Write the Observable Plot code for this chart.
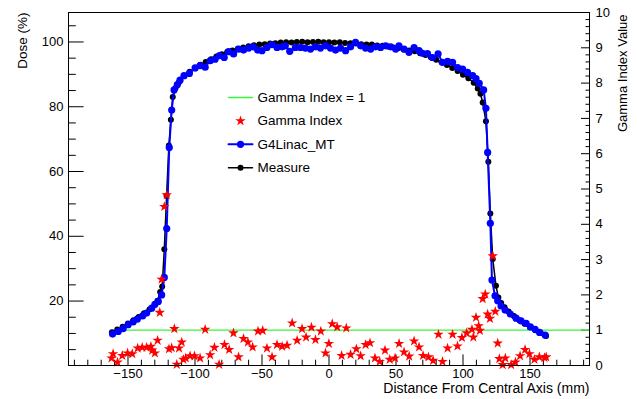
<!DOCTYPE html>
<html><head><meta charset="utf-8">
<script src="https://cdn.jsdelivr.net/npm/d3@7"></script>
<script src="https://cdn.jsdelivr.net/npm/@observablehq/plot@0.6"></script>
<style>body{margin:0;background:#fff;} #chart{width:637px;height:399px;}</style>
</head><body><div id="chart"></div>
<script>
// ---- data ----
const measureX = [-162,-158,-154,-150,-146,-142,-138,-134,-130,-128,-126,-124.5,-122.9,-121.2,-119.5,-118,-116.6,-114.5,-112,-108,-104,-100,-96,-92,-88,-84,-80,-76,-72,-68,-64,-60,-56,-52,-48,-44,-40,-36,-32,-28,-24,-20,-16,-12,-8,-4,0,4,8,12,16,20,24,28,32,36,40,44,48,52,56,60,64,68,72,76,80,84,88,92,96,100,104,108,111,113,114.7,117.1,118.9,120.4,122.2,124.6,126.4,128.5,131,134,138,142,146,150,154,158,162];
const measureDose = [10.4,11.2,12.1,13.1,14.1,15.1,16.2,17.4,18.9,20.1,22.8,24.5,36,52.5,68,76,83,85.8,87.6,89.5,90.8,91.9,93,93.8,94.7,95.5,96.2,96.9,97.4,97.9,98.3,98.7,99,99.2,99.3,99.5,99.6,99.8,99.9,99.8,100,100.1,99.9,100,100.1,99.9,99.9,99.8,99.9,99.7,99.6,99.5,99.3,99.2,99.2,98.9,98.8,98.6,98.3,98.1,97.7,97.4,97.1,96.5,96,95.3,94.5,93.7,92.9,92,91,89.9,88.8,87.4,85.6,84,81.3,75.5,63,47,33,24.7,21.1,19.4,18.1,16.8,15.4,14.1,13,11.9,11,10.1,9.2];

const simX = [-161.5,-157.3,-153.6,-149.9,-146.1,-143.1,-139.1,-136.1,-132.3,-129.9,-127.4,-124.9,-122.9,-121.1,-119.2,-117.4,-115.6,-113.2,-111.2,-108.2,-104.2,-99.9,-96.2,-92.4,-88.7,-85,-81.7,-78.2,-75,-71.2,-67.5,-63.8,-60,-56.7,-53.3,-50,-46.3,-42.5,-38.8,-35,-32.6,-29.3,-25.1,-21.3,-17.6,-13.8,-10.1,-6.4,-2.6,1.1,4.9,8.6,12.4,16.1,19.8,23.6,27.3,31.1,34.8,38.5,42.3,46,49.8,52.2,56,59.7,63.5,67.2,69.8,73.5,77.2,81.4,84.7,88.5,92.2,96,99.7,103.4,107.2,109.7,112.1,115.4,117.1,118.4,120.4,121.6,123.9,125.9,128.4,131.4,135.3,139.6,143.3,147.1,150.3,153.8,157.1,161.3];
const simDose = [9.8,10.6,11.5,12.7,13.6,14.4,15.4,16.3,17.8,19,19.9,21.9,27.3,42.4,67.4,79,85.2,86.8,88.2,89.6,90.3,92,92.7,92.2,94.2,94.7,95.8,95.2,97,96.3,97.8,97.5,98.1,98.5,97.5,97.3,98.3,99.2,98.3,98.5,98.8,97.1,98.3,98.3,98.1,97.8,98.5,98.1,98.8,98.1,97.5,98.1,97.3,98.5,99.9,98.8,98.1,97.8,98.5,98.3,98.8,98.5,97.8,98.8,97.8,96.8,98.3,97.3,96.5,96.4,95.2,96.3,93.7,94,93.7,92.1,91.6,90.6,89.6,88.7,87.2,85.2,79.5,65.9,44,26.5,21.6,20.1,18.5,17.2,16,14.7,13.9,13.1,12,11.3,10.3,9.5];

const gammaX = [-162.3,-161.1,-157.8,-154.3,-150.3,-146.8,-142.8,-139.4,-136.1,-132.9,-131.9,-129.9,-127.9,-126.3,-124.9,-122.9,-121.1,-119.4,-117.4,-115.4,-113.6,-111.9,-109.9,-108.7,-106.9,-103.7,-100.4,-96.2,-92.4,-88.7,-85.5,-82,-78,-74.5,-71.3,-67.5,-63.8,-60.5,-57,-53,-49.5,-46.3,-42.5,-38.8,-35,-31.3,-27.5,-23.8,-20.1,-17.1,-13.1,-10.1,-6.1,-2.6,-0.1,2.4,6.1,9.4,12.9,16.1,20.4,23.6,27.3,30.6,34.3,37.8,41.8,45.3,49.3,52.3,56,59.8,63.5,67.2,70.2,74.2,77.7,81.7,84.7,88.5,92.2,95.9,99.2,102.7,106.7,107.7,109.7,111.7,112.6,114.7,116.6,118.4,120.1,122.2,124.1,125.9,127.1,129.6,131.6,135.9,139.1,142.6,146.3,149.6,153.3,157,160.8,162.1];
const gammaValue = [0.21,0.33,0.09,0.28,0.35,0.33,0.49,0.51,0.51,0.54,0.43,0.35,0.71,1.5,2.44,4.5,4.83,0.47,0.5,1.04,0.03,0.49,0.66,0.17,0.21,0.27,0.27,0.21,1.02,0.3,0.51,0.03,0.59,0.45,0.92,0.24,0.76,0.66,0.52,0.97,0.99,0.49,0.24,0.59,0.54,0.57,1.2,0.71,1.04,0.8,1.08,0.73,0.97,0.35,0.62,1.18,1.09,0.28,1.06,0.31,0.47,0.27,0.59,0.64,0.21,0.11,0.43,0.17,0.21,0.62,0.38,0.26,0.69,0.52,0.28,0.24,0.14,0.88,0.11,0.49,0.88,0.55,0.79,0.92,1.02,0.8,1.36,1.12,0.99,1.89,2.02,1.45,1.33,3.1,1.53,0.63,0.19,0.02,0.21,0.02,0.09,0.27,0.45,0.33,0.17,0.24,0.22,0.24];

const gammaThreshold = 1;
const xTicks = [-150,-100,-50,0,50,100,150];
const xMinorTicks = d3.range(-190, 191, 10).filter(v => v % 50 !== 0);
const doseTicks = [20,40,60,80,100];
const doseMinorTicks = d3.range(5, 106, 5).filter(v => v % 20 !== 0);
const gammaTicks = [0,1,2,3,4,5,6,7,8,9,10];
const gammaMinorTicks = d3.range(0, 10.001, 0.2).map(v => +v.toFixed(1)).filter(v => Math.abs(v - Math.round(v)) > 1e-6);
const legendLabels = ["Gamma Index = 1","Gamma Index","G4Linac_MT","Measure"];

// ---- scales ----
const xDomain = [-194.4, 194.4];
const yDomain = [0.1, 109.1];
const gammaMax = 10;
const g2y = g => yDomain[0] + g * (yDomain[1] - yDomain[0]) / gammaMax;

const measure = measureX.map((x, i) => ({x, dose: measureDose[i]}));
const sim = simX.map((x, i) => ({x, dose: simDose[i]}));
const gamma = gammaX.map((x, i) => ({x, g: gammaValue[i]}));

const BLUE = "#0000ff", RED = "#ff0000", GREEN = "#39f539";
const lineShape = {draw(ctx, l) { ctx.moveTo(0, 0); ctx.lineTo(0, -l); }};

const W = 637, H = 399, ML = 68, MR = 48, MT = 12, MB = 34;
const legendMarks = [];
const legY0 = 85, legStep = 23.4, swX = 228 - ML, txtX = 257 - ML, swLen = 24;
const legendStyles = [
  {stroke: GREEN, width: 1.3, dot: null},
  {stroke: null, dot: {symbol: "star", fill: RED, r: 3.3}},
  {stroke: BLUE, width: 2, dot: {symbol: "circle", fill: BLUE, r: 3.6}},
  {stroke: "black", width: 1.5, dot: {symbol: "circle", fill: "black", r: 3}}
];
legendLabels.forEach((lab, i) => {
  const dy = legY0 + i * legStep, s = legendStyles[i];
  if (s.stroke) legendMarks.push(Plot.vector([0], {frameAnchor: "top-left", dx: swX, dy, length: swLen, rotate: 90, anchor: "start", shape: lineShape, stroke: s.stroke, strokeWidth: s.width}));
  if (s.dot) legendMarks.push(Plot.dot([0], {frameAnchor: "top-left", dx: swX + swLen / 2, dy, r: s.dot.r, symbol: s.dot.symbol, fill: s.dot.fill, stroke: "none"}));
  legendMarks.push(Plot.text([lab], {frameAnchor: "top-left", dx: txtX, dy, textAnchor: "start", lineAnchor: "middle", fontSize: 13.5}));
});

const chart = Plot.plot({
  width: W, height: H,
  marginLeft: ML, marginRight: MR, marginTop: MT, marginBottom: MB,
  style: {fontFamily: "'Liberation Sans', Arial, Helvetica, sans-serif", fontSize: "13px", background: "white", color: "black", overflow: "visible"},
  x: {domain: xDomain},
  y: {domain: yDomain},
  marks: [
    // axes (ticks inside frame, ROOT style)
    Plot.axisX(xTicks, {anchor: "bottom", tickSize: -10.6, tickPadding: 13.5, fontSize: 13, label: null}),
    Plot.axisX(xMinorTicks, {anchor: "bottom", tickSize: -5.3, tickFormat: () => "", label: null}),
    Plot.axisY(doseTicks, {anchor: "left", tickSize: -15.6, tickPadding: 20.6, fontSize: 13, label: null}),
    Plot.axisY(doseMinorTicks, {anchor: "left", tickSize: -7.8, tickFormat: () => "", label: null}),
    Plot.axisY(gammaTicks.map(g2y), {anchor: "right", tickSize: -9, tickPadding: 15, fontSize: 13, label: null,
      tickFormat: v => String(Math.round((v - yDomain[0]) * gammaMax / (yDomain[1] - yDomain[0])))}),
    Plot.axisY(gammaMinorTicks.map(g2y), {anchor: "right", tickSize: -4.5, tickFormat: () => "", label: null}),
    // threshold line
    Plot.ruleY([g2y(gammaThreshold)], {x1: measureX[0], x2: xDomain[1], stroke: GREEN, strokeWidth: 1.3}),
    // series
    Plot.line(measure, {x: "x", y: "dose", stroke: "black", strokeWidth: 1.5}),
    Plot.dot(measure, {x: "x", y: "dose", r: 3, fill: "black", stroke: "none"}),
    Plot.line(sim, {x: "x", y: "dose", stroke: BLUE, strokeWidth: 2}),
    Plot.dot(sim, {x: "x", y: "dose", r: 3.6, fill: BLUE, stroke: "none"}),
    Plot.dot(gamma, {x: "x", y: d => g2y(d.g), symbol: "star", r: 3.3, fill: RED, stroke: "none"}),
    Plot.frame({stroke: "black", strokeWidth: 1}),
    // titles
    Plot.text(["Distance From Central Axis (mm)"], {frameAnchor: "bottom-right", textAnchor: "end", lineAnchor: "middle", dy: 23.5, fontSize: 14}),
    Plot.text(["Dose (%)"], {frameAnchor: "top-left", rotate: -90, textAnchor: "end", lineAnchor: "middle", dx: -46, fontSize: 13.5}),
    Plot.text(["Gamma Index Value"], {frameAnchor: "top-right", rotate: -90, textAnchor: "end", lineAnchor: "middle", dx: 33, dy: 2, fontSize: 13}),
    ...legendMarks
  ]
});
document.getElementById("chart").appendChild(chart);
</script>
</body></html>
